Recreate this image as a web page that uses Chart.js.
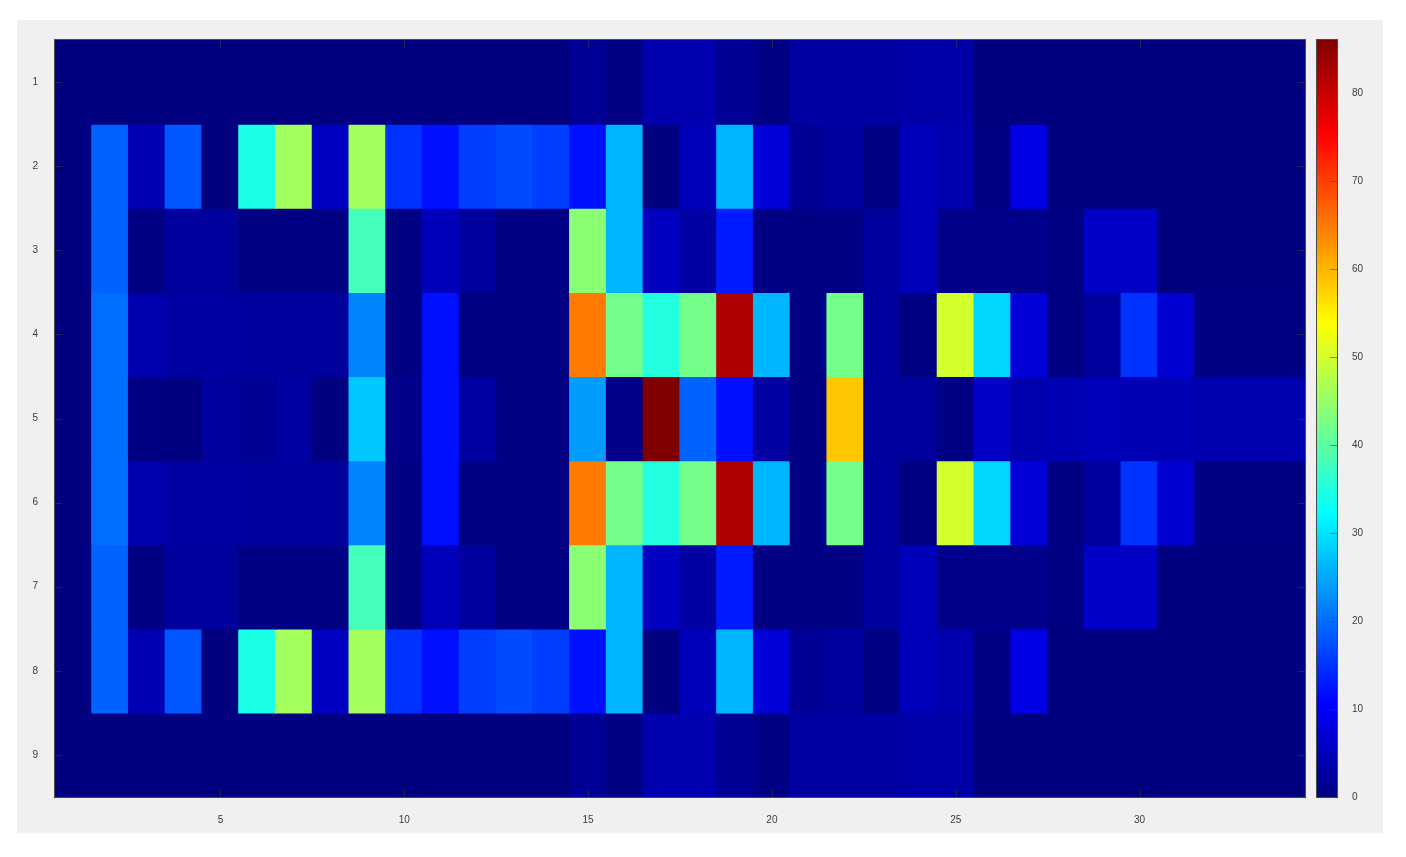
<!DOCTYPE html>
<html>
<head>
<meta charset="utf-8">
<script src="https://cdn.jsdelivr.net/npm/chart.js@4/dist/chart.umd.min.js"></script>
<style>
  body { margin: 0; background: #ffffff; }
  #panel { position: absolute; left: 17px; top: 20px; width: 1366px; height: 813px; background: #f0f0f0; }
  #heat { position: absolute; left: 0; top: 0; }
  #cbar { position: absolute; left: 1300px; top: 0; }
</style>
</head>
<body>
<div id="panel"></div>
<canvas id="heat" width="1310" height="830"></canvas>
<canvas id="cbar" width="100" height="830"></canvas>
<script>
// columns along x, rows along y (row 1 at top)
const colLabels = ['1','2','3','4','5','6','7','8','9','10','11','12','13','14','15','16','17',
  '18','19','20','21','22','23','24','25','26','27','28','29','30','31','32','33','34'];
const rowLabels = [1, 2, 3, 4, 5, 6, 7, 8, 9];
const xTickLabels = ['5', '10', '15', '20', '25', '30'];
const cbarTicks = [0, 10, 20, 30, 40, 50, 60, 70, 80];
const cmin = 0;
const cmax = 86;

const row1 = [0,0,0,0,0,0,0,0,0,0,0,0,0,0,2,0.5,4,4,2,0.5,3,3,3,3.5,3.5,0,0,0,0,0,0,0,0,0];
const row2 = [0,19,4.5,18,0,34.5,46,5.5,46,15,12,16,17,16,12,26,0,5,26,7.5,2,2.5,0.5,5,4,0.5,8.5,0,0,0,0,0,0,0];
const row3 = [0,19,0.5,2.5,2.5,0.5,0.5,0.5,38,0.5,5,2.5,0.5,0.5,44,26,5.5,3,13,0.5,0.5,0.5,2.5,5,1,1,1,0.5,6,6,0,0,0,0];
const row4 = [0,20,4,3,3,2.5,2.5,2.5,22,0.5,12,0.5,0.5,0.5,65,42,35,42,82,26,0.5,42,2.5,0.5,50,29,7.5,0.5,2.5,15,7,0.5,0.5,0.5];
const row5 = [0,20,0.5,0,2.5,2,3,0,27.5,1,12,3,0.5,0.5,24,1,86,19,12,3,0.5,58.5,2.5,2.5,0.5,6,4,4.5,5,4.5,4.5,4,4,4];
const row6 = [0,20,4,3,3,2.5,2.5,2.5,22,0.5,12,0.5,0.5,0.5,65,42,35,42,82,26,0.5,42,2.5,0.5,50,29,7.5,0.5,2.5,15,7,0.5,0.5,0.5];
const row7 = [0,19,0.5,2.5,2.5,0.5,0.5,0.5,38,0.5,5,2.5,0.5,0.5,44,26,5.5,3,13,0.5,0.5,0.5,2.5,5,1,1,1,0.5,6,6,0,0,0,0];
const row8 = [0,19,4.5,18,0,34.5,46,5.5,46,15,12,16,17,16,12,26,0,5,26,7.5,2,2.5,0.5,5,4,0.5,8.5,0,0,0,0,0,0,0];
const row9 = [0,0,0,0,0,0,0,0,0,0,0,0,0,0,2,0.5,4,4,2,0.5,3,3,3,3.5,3.5,0,0,0,0,0,0,0,0,0];

const rows = [row1, row2, row3, row4, row5, row6, row7, row8, row9];

const tickFont = { family: "'Liberation Sans', Arial, sans-serif", size: 10 };
const tickColor = '#3c3c3c';

// MATLAB jet colormap
function jet(v) {
  const t = Math.min(1, Math.max(0, (v - cmin) / (cmax - cmin)));
  const c = (k) => Math.round(255 * Math.min(1, Math.max(0, 1.5 - Math.abs(4 * t - k))));
  return 'rgb(' + c(3) + ',' + c(2) + ',' + c(1) + ')';
}

const frame = {
  id: 'frame',
  afterDraw(chart, args, opts) {
    const { ctx, chartArea: a } = chart;
    ctx.save();
    ctx.strokeStyle = '#4a4a4a';
    ctx.lineWidth = 1;
    ctx.strokeRect(Math.round(a.left) - 0.5, Math.round(a.top) - 0.5, Math.round(a.width) + 1, Math.round(a.height) + 1);
    ctx.strokeStyle = 'rgba(60,60,60,0.55)';
    ctx.beginPath();
    (opts.yTicks || []).forEach((v) => {
      const py = Math.round(chart.scales.y.getPixelForValue(v)) + 0.5;
      if (opts.left) { ctx.moveTo(a.left, py); ctx.lineTo(a.left + 7, py); }
      if (opts.right) { ctx.moveTo(a.right, py); ctx.lineTo(a.right - 7, py); }
    });
    (opts.xTicks || []).forEach((lab) => {
      const px = Math.round(chart.scales.x.getPixelForValue(colLabels.indexOf(lab))) + 0.5;
      ctx.moveTo(px, a.bottom); ctx.lineTo(px, a.bottom - 7);
      ctx.moveTo(px, a.top); ctx.lineTo(px, a.top + 7);
    });
    ctx.stroke();
    ctx.restore();
  }
};

new Chart(document.getElementById('heat').getContext('2d'), {
  type: 'bar',
  data: {
    labels: colLabels,
    datasets: rows.map((vals, r) => ({
      label: 'row ' + rowLabels[r],
      data: vals.map(() => [rowLabels[r] - 0.5, rowLabels[r] + 0.5]),
      backgroundColor: vals.map(jet),
      borderWidth: 0,
      inflateAmount: 0.6,
      grouped: false,
      barPercentage: 1,
      categoryPercentage: 1,
    })),
  },
  options: {
    responsive: false,
    animation: false,
    layout: { padding: { top: 40, right: 5, left: 0, bottom: 0 } },
    plugins: {
      legend: { display: false },
      tooltip: { enabled: false },
      frame: { yTicks: rowLabels, xTicks: xTickLabels, left: true, right: true },
    },
    scales: {
      x: {
        grid: { display: false },
        border: { display: false },
        ticks: {
          autoSkip: false,
          maxRotation: 0,
          padding: 9,
          color: tickColor,
          font: tickFont,
          callback: (v, i) => (xTickLabels.includes(colLabels[i]) ? colLabels[i] : ''),
        },
        afterFit: (s) => { s.height = 33; },
      },
      y: {
        type: 'linear',
        reverse: true,
        min: 0.5,
        max: 9.5,
        afterBuildTicks: (s) => { s.ticks = rowLabels.map((v) => ({ value: v })); },
        grid: { display: false },
        border: { display: false },
        ticks: { padding: 9, color: tickColor, font: tickFont },
        afterFit: (s) => { s.width = 55; },
      },
    },
  },
  plugins: [frame],
});

// colorbar
const jetStops = [0, 0.125, 0.375, 0.625, 0.875, 1];
new Chart(document.getElementById('cbar').getContext('2d'), {
  type: 'bar',
  data: {
    labels: [''],
    datasets: [{
      label: 'colorbar',
      data: [[cmin, cmax]],
      backgroundColor: (c) => {
        const a = c.chart.chartArea;
        if (!a) return jet(cmax / 2);
        const g = c.chart.ctx.createLinearGradient(0, a.bottom, 0, a.top);
        jetStops.forEach((s) => g.addColorStop(s, jet(cmin + s * (cmax - cmin))));
        return g;
      },
      borderWidth: 0,
      barPercentage: 1,
      categoryPercentage: 1,
    }],
  },
  options: {
    responsive: false,
    animation: false,
    layout: { padding: { top: 40, left: 17, right: 0, bottom: 33 } },
    plugins: {
      legend: { display: false },
      tooltip: { enabled: false },
      frame: { yTicks: cbarTicks, right: true },
    },
    scales: {
      x: { display: false },
      y: {
        position: 'right',
        min: cmin,
        max: cmax,
        afterBuildTicks: (s) => { s.ticks = cbarTicks.map((v) => ({ value: v })); },
        grid: { display: false },
        border: { display: false },
        ticks: { padding: 7, color: tickColor, font: tickFont },
        afterFit: (s) => { s.width = 63; },
      },
    },
  },
  plugins: [frame],
});
</script>
</body>
</html>
